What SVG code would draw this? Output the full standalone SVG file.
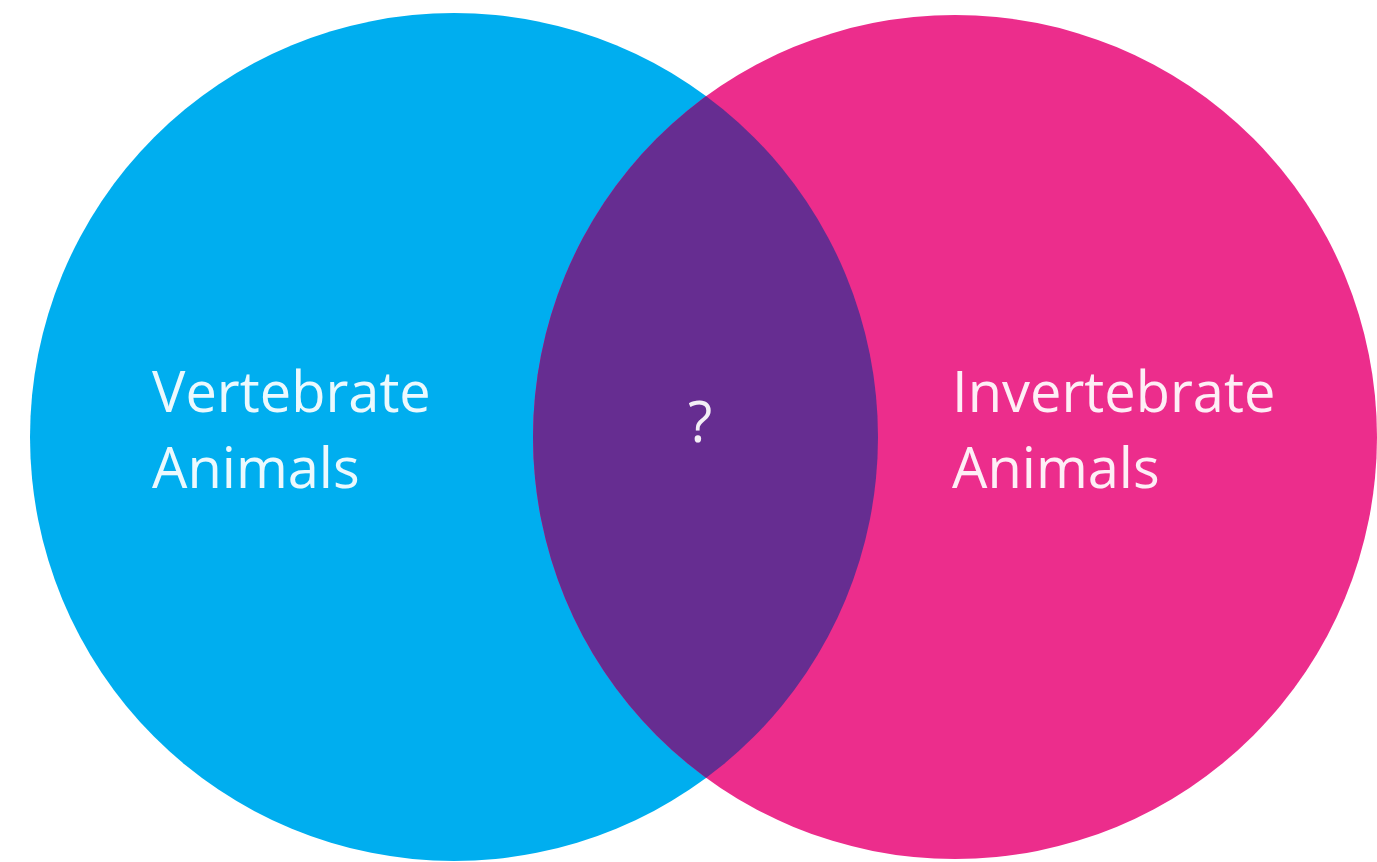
<svg xmlns="http://www.w3.org/2000/svg" width="1377" height="862" viewBox="0 0 1377 862">
<style>
.lbl{font-family:"Open Sans","Liberation Sans",sans-serif;font-size:56px;fill:#ffffff;fill-opacity:0.92}
</style>
<defs>
<clipPath id="clipLeft"><circle cx="454" cy="437" r="424"/></clipPath>
</defs>
<rect width="1377" height="862" fill="#ffffff"/>
<g id="vertebrate">
<circle cx="454" cy="437" r="424" fill="#00AEEF"/>
<text class="lbl" x="152" y="412">Vertebrate</text>
<text class="lbl" x="152" y="488">Animals</text>
</g>
<g id="invertebrate">
<circle cx="955" cy="437" r="422" fill="#EC2D8C"/>
<text class="lbl" x="952" y="412">Invertebrate</text>
<text class="lbl" x="952" y="488">Animals</text>
</g>
<g id="overlap">
<circle cx="955" cy="437" r="422" fill="#662D91" clip-path="url(#clipLeft)"/>
<text class="lbl" x="700" y="442" text-anchor="middle">?</text>
</g>
<g id="connectors"></g>
</svg>
